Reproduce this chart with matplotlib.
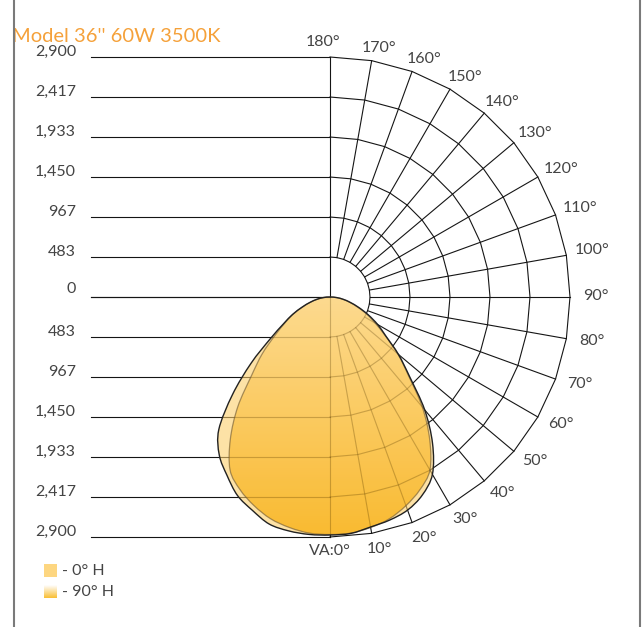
import numpy as np
import matplotlib.pyplot as plt
from matplotlib.patches import Rectangle, PathPatch
from matplotlib.path import Path
from matplotlib.colors import LinearSegmentedColormap

plt.rcParams['font.family'] = ['Lato', 'DejaVu Sans']

title = "Model 36'' 60W 3500K"
max_cd = 2900
ring_values = [483.33, 966.67, 1450, 1933.33, 2416.67, 2900]
ring_labels = ['483', '967', '1,450', '1,933', '2,417', '2,900']
grid_angles = np.arange(0, 181, 10)

# vertical angle (deg) and candela
va = [0, 5, 10, 15, 20, 25, 30, 35, 40, 45, 50, 55, 60, 65, 70, 75, 80, 85, 90]
h0_left = [2876, 2880, 2870, 2840, 2743, 2646, 2489, 2332, 2090, 1665, 1245, 882, 650, 500, 360, 250, 160, 80, 0]
h0_right = [2876, 2868, 2822, 2790, 2740, 2640, 2475, 2160, 1780, 1360, 1080, 825, 665, 510, 370, 255, 165, 82, 0]
h90 = [2870, 2864, 2828, 2774, 2683, 2570, 2415, 2100, 1735, 1340, 1070, 815, 630, 490, 350, 245, 155, 78, 0]

legend_labels = ['- 0° H', '- 90° H']

text_col = '#444444'
pale = '#FDD680'
grad_top = '#FDDA8E'
grad_bot = '#F9B726'

# 1 px = px cd, centre of the diagram at pixel (330, 297)
px = max_cd / 240.0
W, H = 644, 627
cx, cy = 330, 297


def P(x, y):
    return (x - cx) * px, (cy - y) * px


fig = plt.figure(figsize=(W / 100, H / 100), dpi=100)
ax = fig.add_axes([0, 0, 1, 1])
ax.axis('off')


def draw_grid(color, lw, alpha=1.0, clip=None, z=1):
    arts = []
    t = np.radians(grid_angles)
    for r in ring_values:
        arts += ax.plot(r * np.sin(t), -r * np.cos(t), color=color, lw=lw, alpha=alpha, zorder=z)
    for a in grid_angles:
        ta = np.radians(a)
        r0 = 0 if a in (0, 180) else ring_values[0]
        arts += ax.plot([r0 * np.sin(ta), max_cd * np.sin(ta)],
                        [-r0 * np.cos(ta), -max_cd * np.cos(ta)],
                        color=color, lw=lw, alpha=alpha, zorder=z)
    x_left = P(90.5, 0)[0]
    for r in [0] + ring_values:
        for s in (1, -1):
            arts += ax.plot([x_left, 0], [s * r, s * r], color=color, lw=lw, alpha=alpha, zorder=z)
    if clip is not None:
        for a in arts:
            a.set_clip_path(clip)


def curve_path(left, right):
    # closed outline through the points, drawn as a smooth cubic path
    t = np.radians(va)
    rr = np.array(right)
    ll = np.array(left)
    xs = np.concatenate([rr[::-1] * np.sin(t[::-1]), -ll[1:] * np.sin(t[1:])])
    ys = np.concatenate([-rr[::-1] * np.cos(t[::-1]), -ll[1:] * np.cos(t[1:])])
    pts = np.column_stack([xs, ys])[:-1]
    n = len(pts)
    verts = [pts[0]]
    codes = [Path.MOVETO]
    for i in range(n):
        p0, p1, p2, p3 = pts[i - 1], pts[i], pts[(i + 1) % n], pts[(i + 2) % n]
        verts += [p1 + (p2 - p0) / 6, p2 - (p3 - p1) / 6, p2]
        codes += [Path.CURVE4] * 3
    return Path(verts, codes)


draw_grid('#151515', 0.8)

# 0° H plane
p0 = PathPatch(curve_path(h0_left, h0_right), facecolor=pale, alpha=0.7,
               edgecolor='none', zorder=2)
ax.add_patch(p0)

# 90° H plane with gradient fill
p90 = PathPatch(curve_path(h90, h90), facecolor='none', edgecolor='none', zorder=3)
ax.add_patch(p90)
cmap = LinearSegmentedColormap.from_list('amber', [grad_top, grad_bot])
grad = np.linspace(0, 1, 256).reshape(-1, 1)
im = ax.imshow(grad, cmap=cmap, extent=[-max_cd, max_cd, -max_cd, 0], origin='upper',
               aspect='auto', alpha=0.92, zorder=3)
im.set_clip_path(p90)

# grid seen through the fills
clip0 = PathPatch(curve_path(h0_left, h0_right), facecolor='none', edgecolor='none')
ax.add_patch(clip0)
draw_grid('#4a3000', 0.8, alpha=0.25, clip=clip0, z=4)

ax.add_patch(PathPatch(curve_path(h90, h90), facecolor='none',
                       edgecolor='#6b5530', lw=0.9, alpha=0.6, zorder=5))
ax.add_patch(PathPatch(curve_path(h0_left, h0_right), facecolor='none',
                       edgecolor='#222222', lw=1.0, zorder=5))

# intensity labels on the left
fs = 11.5
for i, lab in enumerate(ring_labels):
    r_px = 40 * (i + 1)
    ax.text(*P(76, cy - r_px - 1), lab, ha='right', va='baseline', fontsize=fs, color=text_col)
    ax.text(*P(76, cy + r_px - 1), lab, ha='right', va='baseline', fontsize=fs, color=text_col)
ax.text(*P(76, cy - 4), '0', ha='right', va='baseline', fontsize=fs, color=text_col)

# angle labels
for a in grid_angles:
    ta = np.radians(a)
    tip_x = cx + 240 * np.sin(ta)
    tip_y = cy + 240 * np.cos(ta)
    if a == 0:
        ax.text(*P(330, 551), 'VA:0°', ha='center', va='center', fontsize=fs, color=text_col)
        continue
    if a == 180:
        ax.text(*P(323, 42), '180°', ha='center', va='center', fontsize=fs, color=text_col)
        continue
    dx = 4 + 22 * np.sin(ta)
    dy = (-1 + 17 * np.cos(ta)) if a <= 90 else (-4 + 9 * np.cos(ta))
    ax.text(*P(tip_x + dx, tip_y + dy), f'{a}°', ha='center', va='center',
            fontsize=fs, color=text_col)

# title
ax.text(*P(12, 42), title, ha='left', va='baseline', fontsize=14.5, color='#F5A13A')

# legend
x0, y0 = P(44, 577)
ax.add_patch(Rectangle((x0, y0), 13 * px, 13 * px, facecolor=pale, edgecolor='none', zorder=3))
lx0, ly0 = P(44, 598)
ax.imshow(np.linspace(0, 1, 64).reshape(-1, 1),
          cmap=LinearSegmentedColormap.from_list('leg', ['#FFFFFF', '#F9BE34']),
          extent=[lx0, lx0 + 13 * px, ly0, ly0 + 13 * px], origin='upper',
          aspect='auto', zorder=3)
ax.text(*P(62, 571), legend_labels[0], ha='left', va='center', fontsize=fs, color=text_col)
ax.text(*P(62, 592), legend_labels[1], ha='left', va='center', fontsize=fs, color=text_col)

# frame sides
for xb in (14, 639.5):
    ax.plot([P(xb, 0)[0]] * 2, [P(0, 0)[1], P(0, H)[1]], color='#7a7a7a', lw=1.5, zorder=6)

ax.set_xlim(-cx * px, (W - cx) * px)
ax.set_ylim(-(H - cy) * px, cy * px)

fig.savefig('out.png', dpi=100)
